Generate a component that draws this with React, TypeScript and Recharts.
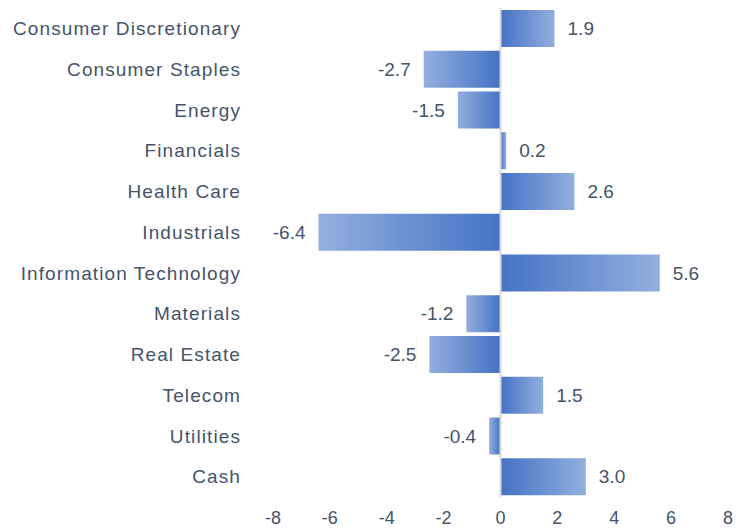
import { Bar, BarChart, Cell, LabelList, ReferenceLine, XAxis, YAxis } from 'recharts'

const categories = [
  'Consumer Discretionary', 'Consumer Staples', 'Energy', 'Financials', 'Health Care',
  'Industrials', 'Information Technology', 'Materials', 'Real Estate', 'Telecom',
  'Utilities', 'Cash',
]
const values = [1.9, -2.7, -1.5, 0.2, 2.6, -6.4, 5.6, -1.2, -2.5, 1.5, -0.4, 3.0]
const xTicks = [-8, -6, -4, -2, 0, 2, 4, 6, 8]

const TEXT = '#44546A'
const DARK = '#4472C4'
const LIGHT = '#93AFDE'

const data = categories.map((name, i) => ({ name, value: values[i] }))

function ValueLabel(props: any) {
  const { x, y, width, height, value } = props
  const left = Math.min(x, x + width)
  const right = Math.max(x, x + width)
  const neg = value < 0
  return (
    <text
      x={neg ? left - 13 : right + 13}
      y={y + height / 2}
      textAnchor={neg ? 'end' : 'start'}
      dominantBaseline="central"
      fill={TEXT}
      fontSize={19}
    >
      {value.toFixed(1)}
    </text>
  )
}

export default function App() {
  return (
    <div style={{ position: 'absolute', left: 0, top: 0, fontFamily: '"Liberation Sans", Arial, sans-serif' }}>
      <BarChart
        width={736}
        height={529}
        layout="vertical"
        data={data}
        margin={{ top: 8, right: 8, bottom: 0, left: 0 }}
      >
        <defs>
          <linearGradient id="gradPos" x1="0" y1="0" x2="1" y2="0">
            <stop offset="0%" stopColor={DARK} />
            <stop offset="100%" stopColor={LIGHT} />
          </linearGradient>
          <linearGradient id="gradNeg" x1="0" y1="0" x2="1" y2="0">
            <stop offset="0%" stopColor={LIGHT} />
            <stop offset="100%" stopColor={DARK} />
          </linearGradient>
        </defs>
        <XAxis
          type="number"
          domain={[-8, 8]}
          ticks={xTicks}
          axisLine={false}
          tickLine={false}
          tickSize={0}
          tickMargin={14}
          height={32}
          tick={{ fill: TEXT, fontSize: 18 }}
        />
        <YAxis
          type="category"
          dataKey="name"
          width={273}
          axisLine={false}
          tickLine={false}
          tickSize={0}
          tickMargin={32}
          interval={0}
          tick={{ fill: TEXT, fontSize: 19, letterSpacing: 1.1 }}
        />
        <Bar dataKey="value" barSize={37} isAnimationActive={false}>
          {data.map((d, i) => (
            <Cell key={i} fill={d.value < 0 ? 'url(#gradNeg)' : 'url(#gradPos)'} />
          ))}
          <LabelList dataKey="value" content={ValueLabel} />
        </Bar>
        <ReferenceLine x={0} stroke="#D9D9D9" strokeWidth={2} />
      </BarChart>
    </div>
  )
}
